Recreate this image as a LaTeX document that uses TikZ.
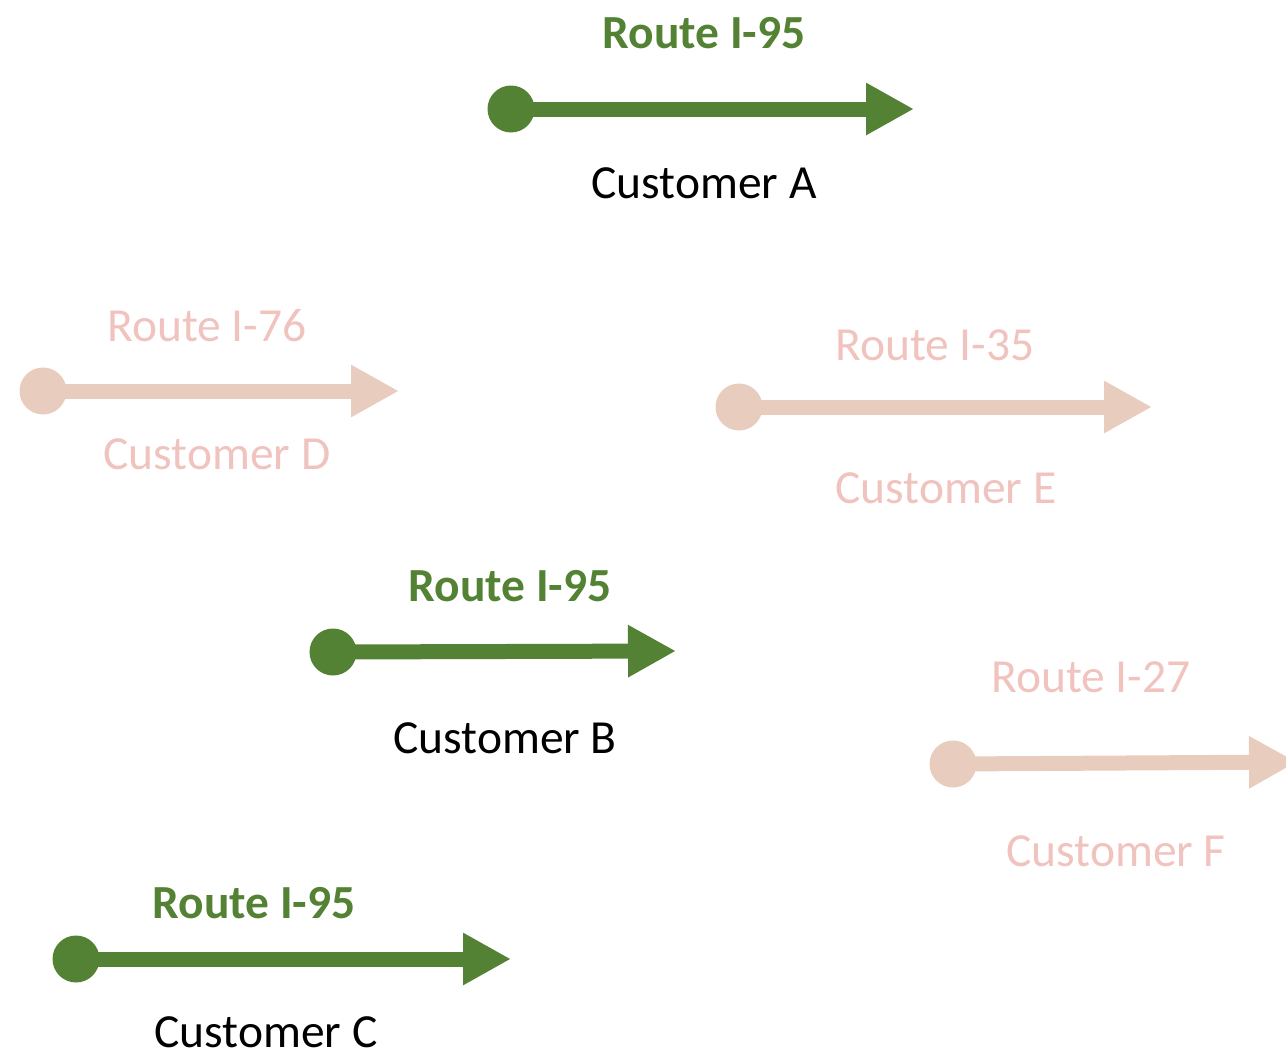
\documentclass[tikz,border=0pt]{standalone}
\usepackage{fontspec}
\setmainfont{Carlito}
\usetikzlibrary{arrows.meta}
\definecolor{rgreen}{HTML}{548235}
\definecolor{rpink}{HTML}{E8CCBE}
\definecolor{tpink}{HTML}{F0C3BE}
\tikzset{
  dotg/.style={circle, fill=rgreen, inner sep=0pt, minimum size=47pt},
  dotp/.style={circle, fill=rpink, inner sep=0pt, minimum size=47pt},
  routeg/.style={draw=rgreen, line width=15pt, -{Triangle[length=48pt,width=49pt]}},
  routep/.style={draw=rpink, line width=15pt, -{Triangle[length=48pt,width=49pt]}},
  titleg/.style={anchor=base, inner sep=0pt, text=rgreen, font=\fontsize{47.5}{50}\selectfont\bfseries},
  titlep/.style={anchor=base, inner sep=0pt, text=tpink, font=\fontsize{47.5}{50}\selectfont},
  custk/.style={anchor=base, inner sep=0pt, text=black, font=\fontsize{47.5}{50}\selectfont},
  custp/.style={anchor=base, inner sep=0pt, text=tpink, font=\fontsize{47.5}{50}\selectfont},
}
\begin{document}
\begin{tikzpicture}[x=1pt,y=-1pt]
\useasboundingbox (0,0) rectangle (1286,1052);
% A
\node[titleg] (tA) at (704,48) {Route I-95};
\node[dotg] (dA) at (511,109) {};
\coordinate (eA) at (914,109);
\draw[routeg] (dA.center) -- (eA);
\node[custk] (cA) at (704,198) {Customer A};
% D
\node[titlep] (tD) at (207,341) {Route I-76};
\node[dotp] (dD) at (43,391) {};
\coordinate (eD) at (399,391);
\draw[routep] (dD.center) -- (eD);
\node[custp] (cD) at (217,469) {Customer D};
% E
\node[titlep] (tE) at (935,360) {Route I-35};
\node[dotp] (dE) at (739,407) {};
\coordinate (eE) at (1152,407);
\draw[routep] (dE.center) -- (eE);
\node[custp] (cE) at (946,503) {Customer E};
% B
\node[titleg] (tB) at (510,601) {Route I-95};
\node[dotg] (dB) at (333,652) {};
\coordinate (eB) at (676,651);
\draw[routeg] (dB.center) -- (eB);
\node[custk] (cB) at (505,753) {Customer B};
% F
\node[titlep] (tF) at (1091,692) {Route I-27};
\node[dotp] (dF) at (953,764) {};
\coordinate (eF) at (1297,762);
\draw[routep] (dF.center) -- (eF);
\node[custp] (cF) at (1116,866) {Customer F};
% C
\node[titleg] (tC) at (254,918) {Route I-95};
\node[dotg] (dC) at (76,959) {};
\coordinate (eC) at (511,959);
\draw[routeg] (dC.center) -- (eC);
\node[custk] (cC) at (266,1047) {Customer C};
\end{tikzpicture}
\end{document}
